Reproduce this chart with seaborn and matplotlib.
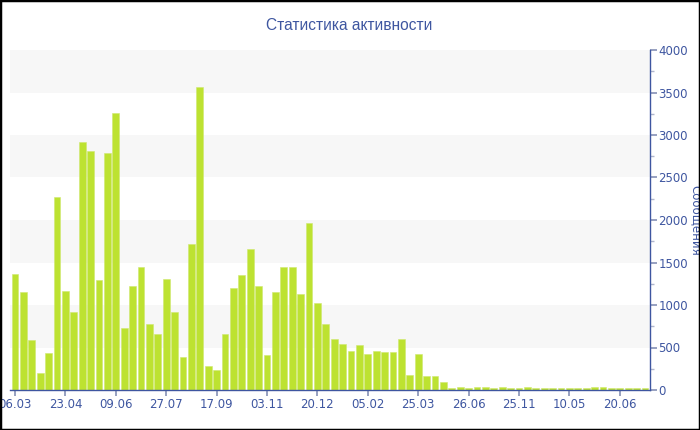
import matplotlib
matplotlib.use("Agg")
import matplotlib.pyplot as plt
import seaborn as sns
import pandas as pd
import numpy as np
from matplotlib.patches import Rectangle
from matplotlib.ticker import MultipleLocator

# ---- data ----
values = [1360, 1150, 590, 200, 435, 2268, 1170, 922, 2922, 2808,
          1298, 2788, 3259, 727, 1220, 1445, 780, 657, 1303, 920,
          393, 1722, 3570, 278, 231, 660, 1195, 1357, 1662, 1227,
          416, 1157, 1443, 1443, 1126, 1966, 1020, 774, 597, 537,
          455, 527, 420, 455, 447, 447, 597, 172, 424, 164,
          161, 90, 28, 32, 24, 32, 32, 28, 32, 24,
          28, 32, 24, 24, 20, 20, 28, 24, 24, 32,
          32, 20, 20, 20, 28, 24]
tick_labels = ["06.03", "23.04", "09.06", "27.07", "17.09", "03.11", "20.12",
               "05.02", "25.03", "26.06", "25.11", "10.05", "20.06"]
title = "Статистика активности"
ylabel = "Сообщения"

# ---- style ----
sns.set_theme(style="white")
plt.rcParams['font.family'] = ['DejaVu Sans']
blue = "#3e56a0"
bar_col = "#bde231"

df = pd.DataFrame({"idx": np.arange(len(values)), "value": values})

fig = plt.figure(figsize=(7, 4.3), dpi=100)
ax = fig.add_axes([10/700, 1 - 390/430, 640/700, 340/430])

for lo in (500, 1500, 2500, 3500):
    ax.axhspan(lo, lo + 500, color="#f7f7f7", zorder=0, lw=0)

sns.barplot(data=df, x="idx", y="value", color=bar_col, saturation=1,
            width=0.82, edgecolor="#cfe870", linewidth=0.4, ax=ax, zorder=2)

ax.set_xlim(-0.6, len(values) - 0.4)
ax.set_ylim(0, 4000)
ax.set_xticks(np.arange(0, len(values), 6)[:len(tick_labels)])
ax.set_xticklabels(tick_labels)
ax.set_xlabel("")
ax.yaxis.tick_right()
ax.yaxis.set_label_position("right")
ax.yaxis.set_major_locator(MultipleLocator(500))
ax.yaxis.set_minor_locator(MultipleLocator(250))
ax.set_ylabel(ylabel, rotation=270, color=blue, fontsize=8.5, labelpad=30)
ax.yaxis.set_label_coords(1.082, 0.5)

for s in ("left", "top"):
    ax.spines[s].set_visible(False)
for s in ("right", "bottom"):
    ax.spines[s].set_color(blue)
    ax.spines[s].set_linewidth(1.0)

ax.tick_params(axis="y", which="major", right=True, length=5, color="#8a94b8",
               labelcolor=blue, labelsize=8.5, pad=1, direction="out")
ax.tick_params(axis="y", which="minor", right=True, length=3, color="#b0b6cc")
ax.tick_params(axis="x", which="major", bottom=True, length=4, color="#8a94b8",
               labelcolor=blue, labelsize=8.5, pad=2, direction="out")
ax.grid(False)

fig.text(0.499, 1 - 25/430, title, ha="center", va="center",
         color=blue, fontsize=11.2, family=["Liberation Sans", "DejaVu Sans"])

fig.patches.append(Rectangle((0, 0), 1, 1, transform=fig.transFigure,
                             fill=False, edgecolor="black", linewidth=2.5,
                             zorder=10))

fig.savefig("out.png", dpi=100)
